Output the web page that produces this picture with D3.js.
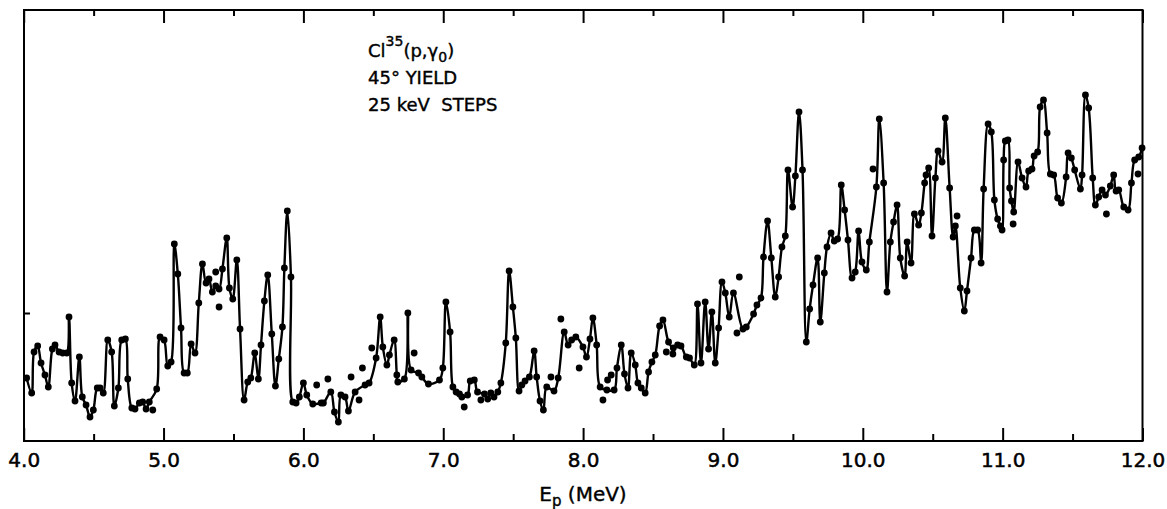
<!DOCTYPE html>
<html><head><meta charset="utf-8">
<script src="https://cdn.jsdelivr.net/npm/d3@7"></script>
<style>body{margin:0;background:#fff}svg{display:block}</style>
</head><body><svg id="c" width="1167" height="509"></svg>
<script>
// Cl35(p,gamma0) 45 deg yield, 25 keV steps (arbitrary yield units)
const energy = [4.021,4.057,4.074,4.100,4.124,4.152,4.176,4.205,4.224,4.253,4.279,4.308,4.324,4.343,4.367,4.398,4.419,4.446,4.474,4.498,4.526,4.546,4.569,4.601,4.629,4.648,4.677,4.701,4.727,4.744,4.773,4.796,4.827,4.851,4.875,4.898,4.951,4.975,5.004,5.030,5.054,
5.077,5.102,5.125,5.147,5.170,5.197,5.225,5.252,5.278,5.304,5.325,5.349,5.373,5.397,5.421,5.452,5.471,5.495,5.524,5.547,5.576,5.602,5.624,5.652,5.678,5.697,5.721,5.745,5.774,5.800,5.824,5.850,5.864,5.885,5.911,5.924,5.948,5.971,6.000,6.024,
6.067,6.127,6.143,6.196,6.222,6.250,6.268,6.298,6.322,6.370,6.441,6.470,6.520,6.549,6.568,6.597,6.615,6.649,6.668,6.675,6.722,6.747,6.770,6.823,6.847,6.894,6.973,6.997,7.019,
7.049,7.069,7.092,7.116,7.133,7.174,7.193,7.222,7.245,7.295,7.318,7.340,7.363,7.390,7.412,7.447,7.471,7.498,7.519,7.542,7.562,7.585,7.616,7.650,7.668,7.692,7.716,7.740,7.792,7.822,7.865,7.893,7.918,7.948,7.999,8.024,
8.049,8.070,8.097,8.122,8.170,8.222,8.242,8.273,8.296,8.321,8.344,8.373,8.392,8.416,8.444,8.468,8.492,8.516,8.547,8.571,8.611,8.645,8.676,8.700,8.738,8.761,8.795,8.818,8.843,8.873,8.897,8.921,8.945,8.969,8.993,9.017,9.045,
9.075,9.143,9.167,9.219,9.243,9.272,9.290,9.319,9.346,9.374,9.398,9.422,9.446,9.465,9.498,9.518,9.544,9.569,9.596,9.620,9.644,9.677,9.696,9.725,9.744,9.773,9.796,9.820,9.846,9.870,9.894,9.923,9.946,9.970,9.994,
10.025,10.047,10.097,10.118,10.149,10.173,10.197,10.220,10.245,10.268,10.299,10.317,10.345,10.369,10.399,10.419,10.442,10.452,10.471,10.495,10.519,10.538,10.567,10.590,10.621,10.646,10.662,10.697,10.726,10.745,10.774,10.798,10.821,10.846,10.864,10.896,10.919,10.941,10.964,10.984,10.996,
11.007,11.019,11.038,11.050,11.063,11.079,11.110,11.139,11.167,11.186,11.210,11.225,11.250,11.268,11.292,11.318,11.341,11.365,11.393,11.420,11.454,11.468,11.491,11.515,11.556,11.568,11.592,11.615,11.644,11.663,11.687,11.711,11.735,11.770,11.794,11.811,11.830,11.866,11.897,11.921,11.944,11.973,11.997];
const yieldv = [63,48,89,95,78,66,54,92,96,89,88,88,124,58,40,84,44,36,24,31,53,53,48,101,89,35,53,101,102,62,33,32,38,39,32,39,52,104,101,75,79,
197,167,113,68,68,97,88,138,177,158,162,149,155,152,172,203,153,142,181,112,41,59,63,88,62,96,140,166,107,55,82,114,173,230,164,39,38,44,58,46,
37,38,38,49,29,19,46,44,30,49,56,58,83,124,94,76,86,101,66,59,62,128,71,68,64,57,61,73,139,
109,54,49,47,44,46,60,61,49,47,42,48,44,49,58,98,170,134,103,50,56,60,64,90,64,40,31,54,50,63,109,96,101,104,94,84,
102,123,96,54,51,51,73,96,67,53,88,76,58,53,48,69,79,86,115,121,99,93,96,95,84,83,76,137,78,139,92,129,78,113,159,148,124,
148,112,114,127,136,143,184,220,183,144,164,194,205,271,234,265,329,271,99,132,156,183,119,168,194,208,200,202,256,231,201,163,169,210,179,
171,199,254,322,258,149,199,219,236,183,165,199,178,227,216,228,258,266,273,205,263,290,279,323,253,204,215,153,130,150,183,211,211,178,252,317,309,241,222,215,211,
281,300,301,253,240,229,279,263,254,270,272,285,289,334,341,308,267,266,243,238,264,288,283,271,252,266,346,333,263,236,244,251,246,255,266,250,251,234,231,258,281,284,293];
// points plotted off the drawn curve
const offEnergy = [4.923,5.373,5.397,6.095,6.175,6.341,6.398,6.422,6.489,6.792,7.150,7.269,7.770,7.841,7.972,8.142,8.175,8.201,8.595,8.642,9.100,9.117,10.073,10.674,11.075,11.742,11.968];
const offYield  = [31,169,134,56,62,64,41,73,93,88,34,41,64,122,73,41,61,66,89,87,108,164,272,225,217,227,267];

const majorTicks = [4,5,6,7,8,9,10,11,12];
const minorTicks = [4.5,5.5,6.5,7.5,8.5,9.5,10.5,11.5];
const tickLabels = ["4.0","5.0","6.0","7.0","8.0","9.0","10.0","11.0","12.0"];
const leftTicks = [128];

const svg = d3.select("#c");
const L=24, R=1142.5, T=10, B=441;
const x = d3.scaleLinear().domain([4,12]).range([23.7,1142.5]);
const y = d3.scaleLinear().domain([0,440]).range([B,1]);
const font = "'DejaVu Sans', sans-serif";

// frame
svg.append("rect").attr("x",L).attr("y",T).attr("width",R-L).attr("height",B-T)
  .attr("fill","none").attr("stroke","#000").attr("stroke-width",2);

function styleAxis(g){ g.select(".domain").remove(); g.selectAll("line").attr("stroke","#000").attr("stroke-width",2); }

// bottom ticks (inward) with labels
svg.append("g").attr("transform",`translate(0,${B})`)
  .call(d3.axisBottom(x).tickValues(majorTicks).tickSize(-13).tickSizeOuter(0).tickPadding(12)
        .tickFormat((d,i)=>tickLabels[i]))
  .call(styleAxis)
  .call(g=>g.selectAll("text").attr("font-family",font).attr("font-size",20).attr("fill","#000")
        .attr("stroke","#000").attr("stroke-width",0.5));
svg.append("g").attr("transform",`translate(0,${B})`)
  .call(d3.axisBottom(x).tickValues(minorTicks).tickSize(-7).tickSizeOuter(0).tickFormat(""))
  .call(styleAxis);
// top ticks (inward)
svg.append("g").attr("transform",`translate(0,${T})`)
  .call(d3.axisTop(x).tickValues(majorTicks).tickSize(-13).tickSizeOuter(0).tickFormat(""))
  .call(styleAxis);
svg.append("g").attr("transform",`translate(0,${T})`)
  .call(d3.axisTop(x).tickValues(minorTicks).tickSize(-6).tickSizeOuter(0).tickFormat(""))
  .call(styleAxis);
// left tick
svg.append("g").attr("transform",`translate(${L},0)`)
  .call(d3.axisLeft(y).tickValues(leftTicks).tickSize(-6).tickSizeOuter(0).tickFormat(""))
  .call(styleAxis);

// curve
const pts = energy.map((e,i)=>({e, v:yieldv[i]}));
const line = d3.line().x(d=>x(d.e)).y(d=>y(d.v)).curve(d3.curveCatmullRom.alpha(0.5));
svg.append("path").datum(pts).attr("d",line).attr("fill","none").attr("stroke","#000")
  .attr("stroke-width",2.4).attr("stroke-linejoin","round");
svg.append("g").selectAll("circle").data(pts).join("circle")
  .attr("cx",d=>x(d.e)).attr("cy",d=>y(d.v)).attr("r",3.4).attr("fill","#000");
const offPts = offEnergy.map((e,i)=>({e, v:offYield[i]}));
svg.append("g").selectAll("circle").data(offPts).join("circle")
  .attr("cx",d=>x(d.e)).attr("cy",d=>y(d.v)).attr("r",3.4).attr("fill","#000");

// annotation
const ann = svg.append("g").attr("font-family",font).attr("font-size",18).attr("fill","#000")
  .attr("stroke","#000").attr("stroke-width",0.4);
const t1 = ann.append("text").attr("x",368).attr("y",57);
t1.append("tspan").text("Cl");
t1.append("tspan").attr("font-size",14).attr("dy",-11).text("35");
t1.append("tspan").attr("dy",11).text("(p,γ");
t1.append("tspan").attr("font-size",14).attr("dy",5).text("0");
t1.append("tspan").attr("dy",-5).text(")");
ann.append("text").attr("x",368).attr("y",84).text("45° YIELD");
ann.append("text").attr("x",368).attr("y",111).attr("xml:space","preserve").text("25 keV  STEPS");

// x label
const xl = svg.append("text").attr("x",583).attr("y",501).attr("text-anchor","middle")
  .attr("font-family",font).attr("font-size",20).attr("fill","#000")
  .attr("stroke","#000").attr("stroke-width",0.4).attr("xml:space","preserve");
xl.append("tspan").text("E");
xl.append("tspan").attr("font-size",15).attr("dy",5).text("p");
xl.append("tspan").attr("dy",-5).text(" (MeV)");
</script></body></html>
